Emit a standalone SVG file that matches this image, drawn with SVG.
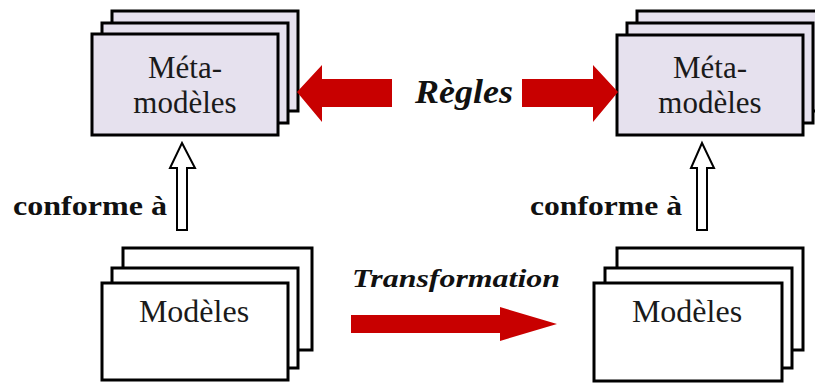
<svg xmlns="http://www.w3.org/2000/svg" width="815" height="385" viewBox="0 0 815 385">
<style>
.meta{fill:#e6e1ee;stroke:#000;stroke-width:3}
.mod{fill:#fff;stroke:#000;stroke-width:3}
.lbl{font-family:"Liberation Serif","Times New Roman",serif;fill:#1a1a1a;text-anchor:middle}
.bi{font-family:"Liberation Serif","Times New Roman",serif;font-weight:bold;font-style:italic;fill:#111}
.b{font-family:"Liberation Serif","Times New Roman",serif;font-weight:bold;fill:#111}
.red{fill:#c80000}
.hollow{fill:#fff;stroke:#000;stroke-width:2}
</style>
<rect width="815" height="385" fill="#fff"/>
<g id="meta-left">
<rect class="meta" x="112" y="11" width="186" height="100"/>
<rect class="meta" x="102" y="23" width="186" height="100"/>
<rect class="meta" x="92" y="34" width="186" height="101"/>
<text class="lbl" x="185" y="78" font-size="31">Méta-</text>
<text class="lbl" x="185" y="113" font-size="31">modèles</text>
</g>
<g id="meta-right">
<rect class="meta" x="637" y="11" width="186" height="100"/>
<rect class="meta" x="627" y="23" width="186" height="100"/>
<rect class="meta" x="617" y="35" width="186" height="100"/>
<text class="lbl" x="710" y="78" font-size="31">Méta-</text>
<text class="lbl" x="710" y="113" font-size="31">modèles</text>
</g>
<g id="modeles-left">
<rect class="mod" x="123" y="248" width="189" height="102"/>
<rect class="mod" x="112" y="268" width="186" height="100"/>
<rect class="mod" x="102" y="283" width="186" height="97"/>
<text class="lbl" x="194" y="322" font-size="32">Modèles</text>
</g>
<g id="modeles-right">
<rect class="mod" x="617" y="248" width="186" height="102"/>
<rect class="mod" x="605" y="268" width="187" height="100"/>
<rect class="mod" x="594" y="283" width="188" height="98"/>
<text class="lbl" x="687" y="322" font-size="32">Modèles</text>
</g>
<g id="connectors">
<polygon class="red" points="297,92 322,65 322,79 392,79 392,107 322,107 322,122"/>
<polygon class="red" points="618,92 593,65 593,79 522,79 522,107 593,107 593,122"/>
<text class="bi" x="415" y="103" font-size="34" textLength="98" lengthAdjust="spacingAndGlyphs">Règles</text>
<polygon class="hollow" points="182,143 195,168 187,168 187,230 177,230 177,168 170,168"/>
<polygon class="hollow" points="702,143 714,168 707,168 707,230 697,230 697,168 691,168"/>
<text class="b" x="13" y="215" font-size="27" textLength="154" lengthAdjust="spacingAndGlyphs">conforme à</text>
<text class="b" x="530" y="215" font-size="27" textLength="152" lengthAdjust="spacingAndGlyphs">conforme à</text>
<polygon class="red" points="351,315 500,315 500,307 557,324 500,341 500,333 351,333"/>
<text class="bi" x="352" y="287" font-size="26" textLength="208" lengthAdjust="spacingAndGlyphs">Transformation</text>
</g>
</svg>
